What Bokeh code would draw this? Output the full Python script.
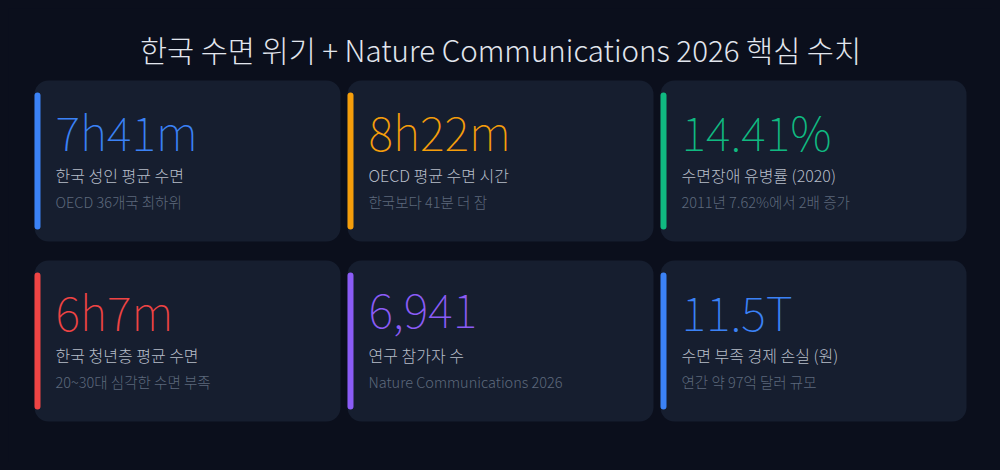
from bokeh.plotting import figure
from bokeh.models import Range1d, ColumnDataSource
from bokeh.core.properties import value
from bokeh.embed import file_html
from bokeh.resources import INLINE

title = "한국 수면 위기 + Nature Communications 2026 핵심 수치"
values = ["7h41m", "8h22m", "14.41%", "6h7m", "6,941", "11.5T"]
labels = ["한국 성인 평균 수면", "OECD 평균 수면 시간", "수면장애 유병률 (2020)",
          "한국 청년층 평균 수면", "연구 참가자 수", "수면 부족 경제 손실 (원)"]
subs = ["OECD 36개국 최하위", "한국보다 41분 더 잠", "2011년 7.62%에서 2배 증가",
        "20~30대 심각한 수면 부족", "Nature Communications 2026", "연간 약 97억 달러 규모"]
accents = ["#3b82f6", "#f59e0b", "#10b981", "#ef4444", "#8b5cf6", "#3b82f6"]

BG = "#0b0f1c"
CARD = "#161e2f"
W, H = 984, 454
OFF = 8  # page margin
FONT = "'Noto Sans CJK KR', sans-serif"

def fs(px, weight=300):
    # font weight prefixed into the font shorthand
    return value("normal %d %spx" % (weight, px))

p = figure(width=W, height=H, output_backend="svg", toolbar_location=None,
           x_range=Range1d(OFF, OFF + W), y_range=Range1d(OFF + H, OFF),
           min_border=0, background_fill_color=BG, border_fill_color=BG)
p.axis.visible = False
p.grid.visible = False
p.outline_line_color = None

col_left = [34, 347, 660]
row_top = [80, 260]
cw, ch = 306, 161

L, R, T, B = [], [], [], []
for i in range(len(values)):
    x0 = col_left[i % 3]
    y0 = row_top[i // 3]
    L.append(x0); R.append(x0 + cw); T.append(y0); B.append(y0 + ch)

src = ColumnDataSource(dict(
    left=L, right=R, top=T, bottom=B,
    bl=[l for l in L], br=[l + 6 for l in L],
    bt=[t + 12 for t in T], bb=[b - 12 for b in B],
    tx=[l + 21 for l in L],
    vy=[t + 50 for t in T], ly=[t + 94 for t in T], sy=[t + 121 for t in T],
    val=values, lab=labels, sub=subs, color=accents,
))

p.quad(left="left", right="right", top="top", bottom="bottom", source=src,
       fill_color=CARD, line_color=None, border_radius=14)
p.quad(left="bl", right="br", top="bt", bottom="bb", source=src,
       fill_color="color", line_color=None, border_radius=3)

p.text(x="tx", y="vy", text="val", source=src, text_color="color",
       text_font=value(FONT), text_font_size=fs(47, 100), text_baseline="middle")
p.text(x="tx", y="ly", text="lab", source=src, text_color="#b6bdc9",
       text_font=value(FONT), text_font_size=fs(16), text_baseline="middle")
p.text(x="tx", y="sy", text="sub", source=src, text_color="#5d697c",
       text_font=value(FONT), text_font_size=fs(14.5), text_baseline="middle")

p.text(x=[500], y=[48], text=[title], text_color="#e2e6ee",
       text_font=value(FONT), text_font_size=fs(29.5), text_align="center",
       text_baseline="middle")

html = file_html(p, INLINE)
style = "<style>html,body{background:%s !important;margin:0 !important;padding:0 !important;}body{padding:8px 0 0 8px !important;}</style>" % BG
html = html.replace("</head>", style + "</head>", 1)
open("out.html", "w").write(html)
